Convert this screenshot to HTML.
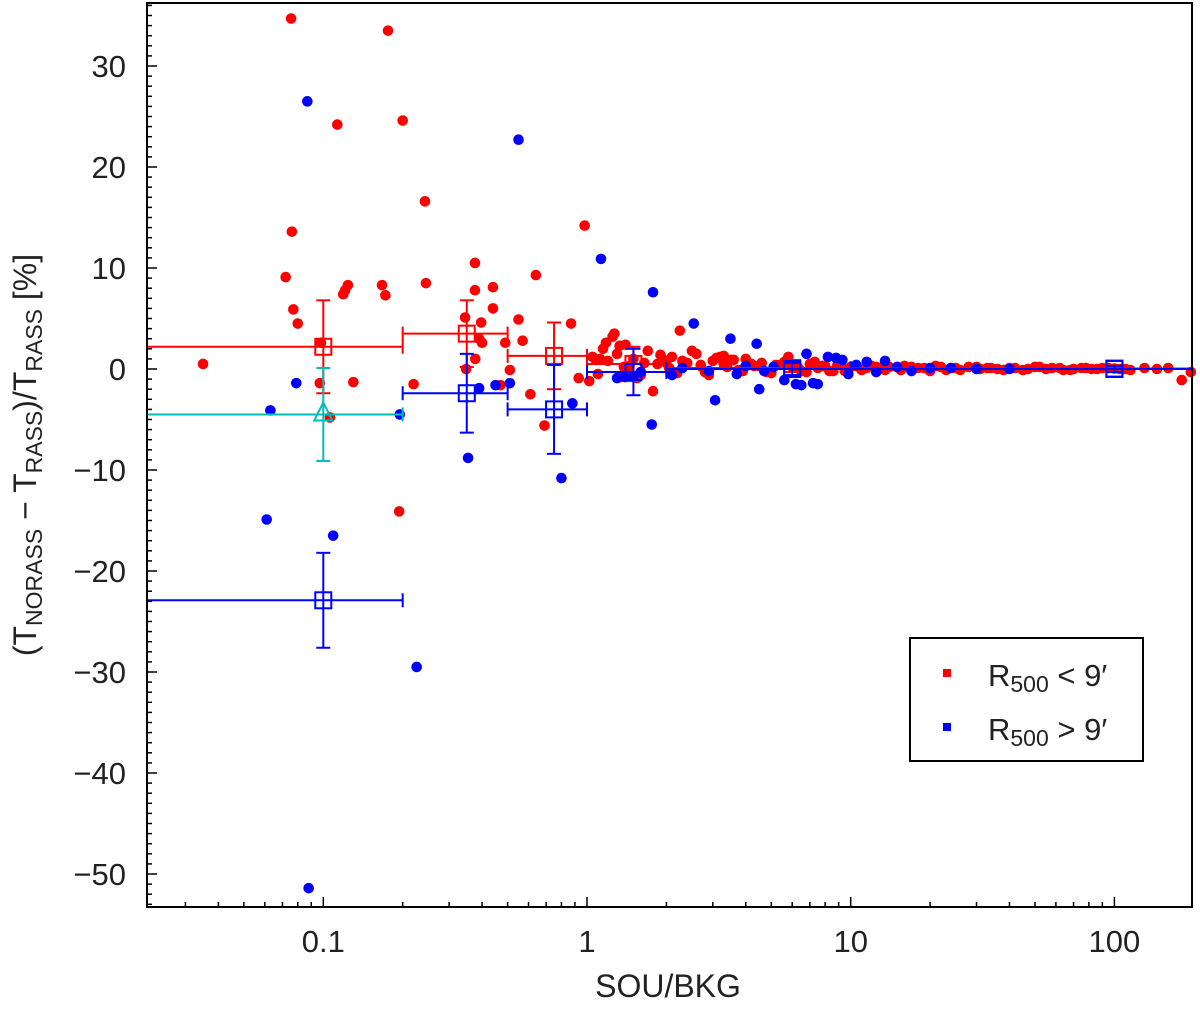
<!DOCTYPE html>
<html><head><meta charset="utf-8"><style>
body{margin:0;background:#fff}
svg text{font-family:"Liberation Sans",sans-serif;fill:#222}
</style></head><body>
<svg id="chart" width="1200" height="1009" xmlns="http://www.w3.org/2000/svg">
<g id="marks"></g>
<rect x="147" y="3" width="1045" height="904" fill="none" stroke="#000" stroke-width="2"/>
<g id="axes"></g>
<text x="668" y="997" font-size="32" text-anchor="middle">SOU/BKG</text>
<text transform="translate(36,455) rotate(-90)" font-size="32" text-anchor="middle">(T<tspan font-size="23" dy="6">NORASS</tspan><tspan dy="-6"> − T</tspan><tspan font-size="23" dy="6">RASS</tspan><tspan dy="-6">)/T</tspan><tspan font-size="23" dy="6">RASS</tspan><tspan dy="-6"> [%]</tspan></text>
<g>
<rect x="910" y="638" width="233" height="123" fill="#fff" stroke="#000" stroke-width="2"/>
<rect x="943" y="669" width="8" height="8" fill="#f00"/>
<text x="988" y="686" font-size="31">R<tspan font-size="23" dy="6">500</tspan><tspan dy="-6"> &lt; 9′</tspan></text>
<rect x="943" y="723" width="8" height="8" fill="#00f"/>
<text x="988" y="740" font-size="31">R<tspan font-size="23" dy="6">500</tspan><tspan dy="-6"> &gt; 9′</tspan></text>
</g>
</svg>
<script>
const redX=[0.035,0.0755,0.176,0.113,0.2,0.243,0.076,0.072,0.077,0.080,0.121,0.124,0.119,0.167,0.172,0.245,0.376,0.98,0.64,0.097,0.098,0.13,0.106,0.22,0.194,0.345,0.376,0.397,0.44,0.44,0.39,0.40,0.49,0.55,0.57,0.377,0.348,0.51,0.47,0.61,0.69,0.87,
1.05,1.1,1.15,1.2,1.25,1.27,1.3,1.35,1.4,1.45,1.5,1.6,1.7,1.78,1.85,1.95,2.1,2.2,2.25,2.4,2.6,2.8,3.0,3.2,3.4,3.6,3.9,4.2,4.5,4.8,5.2,5.6,6.0,6.5,7.0,7.5,8.0,8.6,9.2,10,11,12,13,14,15.5,17,19,21,23,25,28,31,34,38,42,47,52,58,64,70,78,86,95,105,115,130,145,160,180,195,0.93,1.02,1.12,1.33,2.0,2.7,3.3,
1.08,1.18,1.38,1.55,1.65,1.9,2.05,2.3,2.5,2.7,2.9,3.1,3.3,3.5,3.75,4.0,4.3,4.6,5.0,5.4,5.8,6.3,6.8,7.3,7.8,8.3,8.9,9.5,10.5,11.5,12.5,13.5,16,18,20,22,24,26,30,33,36,40,45,50,55,62,68,75,82,90,100,110,125,140,170,190];
const redY=[0.5,34.7,33.5,24.2,24.6,16.6,13.6,9.1,5.9,4.5,7.8,8.3,7.4,8.3,7.3,8.5,10.5,14.2,9.3,-1.4,2.6,-1.3,-4.8,-1.5,-14.1,5.1,7.8,4.6,8.1,6.0,3.0,2.6,2.6,4.9,2.8,1.0,0,-0.1,-1.6,-2.5,-5.6,4.5,
1.2,-0.5,2.0,0.8,3.2,3.5,1.5,-0.8,2.4,0.3,1.0,-0.6,1.8,-2.2,0.5,0.9,1.2,-0.4,3.8,0.6,1.5,-0.3,0.8,1.2,0.2,0.9,-0.2,0.5,0.3,-0.3,0.4,0.7,0.2,-0.2,0.5,0.1,0.3,-0.2,0.4,0.2,-0.1,0.3,0.1,0.2,-0.1,0.2,0.1,0.3,-0.1,0.1,0.2,0,0.1,-0.1,0.1,0,0.2,0.1,-0.1,0,0.1,0,0.1,0,-0.1,0.1,0,0.1,-1.1,-0.3,-0.9,-1.2,1.0,2.3,0.6,
0.4,1.3,0.9,2.6,0.2,-0.9,0.6,1.4,0.1,0.8,1.8,0.3,-0.6,1.1,0.5,0.9,-0.1,1.0,0.3,0.6,-0.4,0.4,1.2,0.2,-0.3,0.7,0.3,-0.2,0.4,-0.2,0.3,0.1,0.2,-0.1,0.3,0.1,-0.2,0.2,0.1,-0.1,0.2,0.1,0,0.1,-0.1,0.2,0,0.1,-0.1,0.1,0,0.1,0.05,0];
const blueX=[0.087,0.55,1.13,1.78,2.54,0.063,0.079,0.195,0.061,0.109,0.226,0.088,0.354,0.80,0.39,0.45,0.51,0.88,1.76,3.06,3.5,4.4,4.5,5.6,6.8,7.2,
1.3,1.4,1.5,1.6,2.1,2.3,2.9,3.7,4.0,4.7,5.1,6.2,6.5,7.5,8.2,8.8,9.3,9.8,10.5,11.5,12.5,13.5,15,17,20,24,30,40];
const blueY=[26.5,22.7,10.9,7.6,4.5,-4.1,-1.4,-4.5,-14.9,-16.5,-29.5,-51.4,-8.8,-10.8,-1.9,-1.6,-1.4,-3.4,-5.5,-3.1,3.0,2.5,-2.0,-1.1,1.5,-1.4,
-0.9,-0.8,-0.8,-0.3,-0.6,0.1,-0.2,-0.5,0.3,-0.2,0.2,-1.5,-1.6,-1.5,1.2,1.1,0.9,-0.5,0.4,0.7,-0.3,0.8,0.2,-0.2,0.1,0.1,0,0];
const binRedX=[0.1,0.35,0.75,1.5,6,100];
const binRedLo=[0.01,0.2,0.5,1,2,10];
const binRedHi=[0.2,0.5,1,2,10,200];
const binRedY=[2.2,3.5,1.3,0.5,0.1,0.05];
const binRedErr=[4.6,3.3,3.3,1.7,0.4,0.2];
const binBlueX=[0.1,0.35,0.75,1.5,6,100];
const binBlueLo=[0.01,0.2,0.5,1,2,10];
const binBlueHi=[0.2,0.5,1,2,10,200];
const binBlueY=[-22.9,-2.4,-4.0,-0.3,0,0];
const binBlueErr=[4.7,3.9,4.4,2.3,0.6,0.3];
const cyanX=[0.1],cyanLo=[0.01],cyanHi=[0.2],cyanY=[-4.5],cyanErr=[4.6];
const yTicks=[30,20,10,0,-10,-20,-30,-40,-50];
const xTicks=[0.1,1,10,100];
const xTickLabels=["0.1","1","10","100"];

const X0=147,X1=1192,Y0=3,Y1=907;
const sx=v=>Math.max(X0,Math.min(X1,587+263.7*Math.log10(v)));
const sy=v=>369-10.1*v;
const NS="http://www.w3.org/2000/svg";
const marks=document.getElementById('marks'),axes=document.getElementById('axes');
function mk(tag,at,parent){const e=document.createElementNS(NS,tag);for(const k in at)e.setAttribute(k,at[k]);parent.appendChild(e);return e;}

for(let v=-53;v<=36;v++){
  const major=v%10===0;
  const t=mk('line',{x1:X0,x2:X0+(major?10:5),y1:sy(v),y2:sy(v),stroke:'#000','stroke-width':1.5},axes);
  
  
}
yTicks.forEach(v=>{
  const t=mk('text',{x:126,y:sy(v)+11,'font-size':31,'text-anchor':'end'},axes);
  t.textContent=(v<0?'−':'')+Math.abs(v);
  
  
});
for(let d=-2;d<=2;d++)for(let m=1;m<10;m++){
  const v=m*Math.pow(10,d),px=587+263.7*Math.log10(v);
  if(px<X0||px>X1)continue;
  const t=mk('line',{x1:px,x2:px,y1:Y1,y2:Y1-(m===1?10:5),stroke:'#000','stroke-width':1.5},axes);
  
  
}
xTicks.forEach((v,i)=>{
  const t=mk('text',{x:sx(v),y:952,'font-size':31,'text-anchor':'middle'},axes);
  t.textContent=xTickLabels[i];
  
  
});

redX.forEach((x,i)=>{
  if(redY[i]===undefined)return;
  const c=mk('circle',{cx:sx(x),cy:sy(redY[i]),r:5.3,fill:'#f00'},marks);
  
  
});
blueX.forEach((x,i)=>{
  if(blueY[i]===undefined)return;
  const c=mk('circle',{cx:sx(x),cy:sy(blueY[i]),r:5.3,fill:'#00f'},marks);
  
  
});
function errbar(xs,lo,hi,ys,err,col,shape,name){
  xs.forEach((x,i)=>{
    const g=mk('g',{stroke:col,'stroke-width':2,fill:'none'},marks);
    
    
    const cx=sx(x),cy=sy(ys[i]),l=sx(lo[i]),r=sx(hi[i]),t=sy(ys[i]+err[i]),b=sy(ys[i]-err[i]);
    mk('line',{x1:l,x2:r,y1:cy,y2:cy},g);
    mk('line',{x1:cx,x2:cx,y1:t,y2:b},g);
    mk('line',{x1:cx-7,x2:cx+7,y1:t,y2:t},g);
    mk('line',{x1:cx-7,x2:cx+7,y1:b,y2:b},g);
    if(l>X0)mk('line',{x1:l,x2:l,y1:cy-7,y2:cy+7},g);
    if(r<X1)mk('line',{x1:r,x2:r,y1:cy-7,y2:cy+7},g);
    if(shape==='sq')mk('rect',{x:cx-8,y:cy-8,width:16,height:16},g);
    else mk('polygon',{points:`${cx},${cy-12} ${cx-9},${cy+6} ${cx+9},${cy+6}`},g);
  });
}
errbar(binRedX,binRedLo,binRedHi,binRedY,binRedErr,'#f00','sq','red-bin-mean');
errbar(binBlueX,binBlueLo,binBlueHi,binBlueY,binBlueErr,'#00f','sq','blue-bin-mean');
errbar(cyanX,cyanLo,cyanHi,cyanY,cyanErr,'#0bb','tri','cyan-bin-mean');
</script>
</body></html>
